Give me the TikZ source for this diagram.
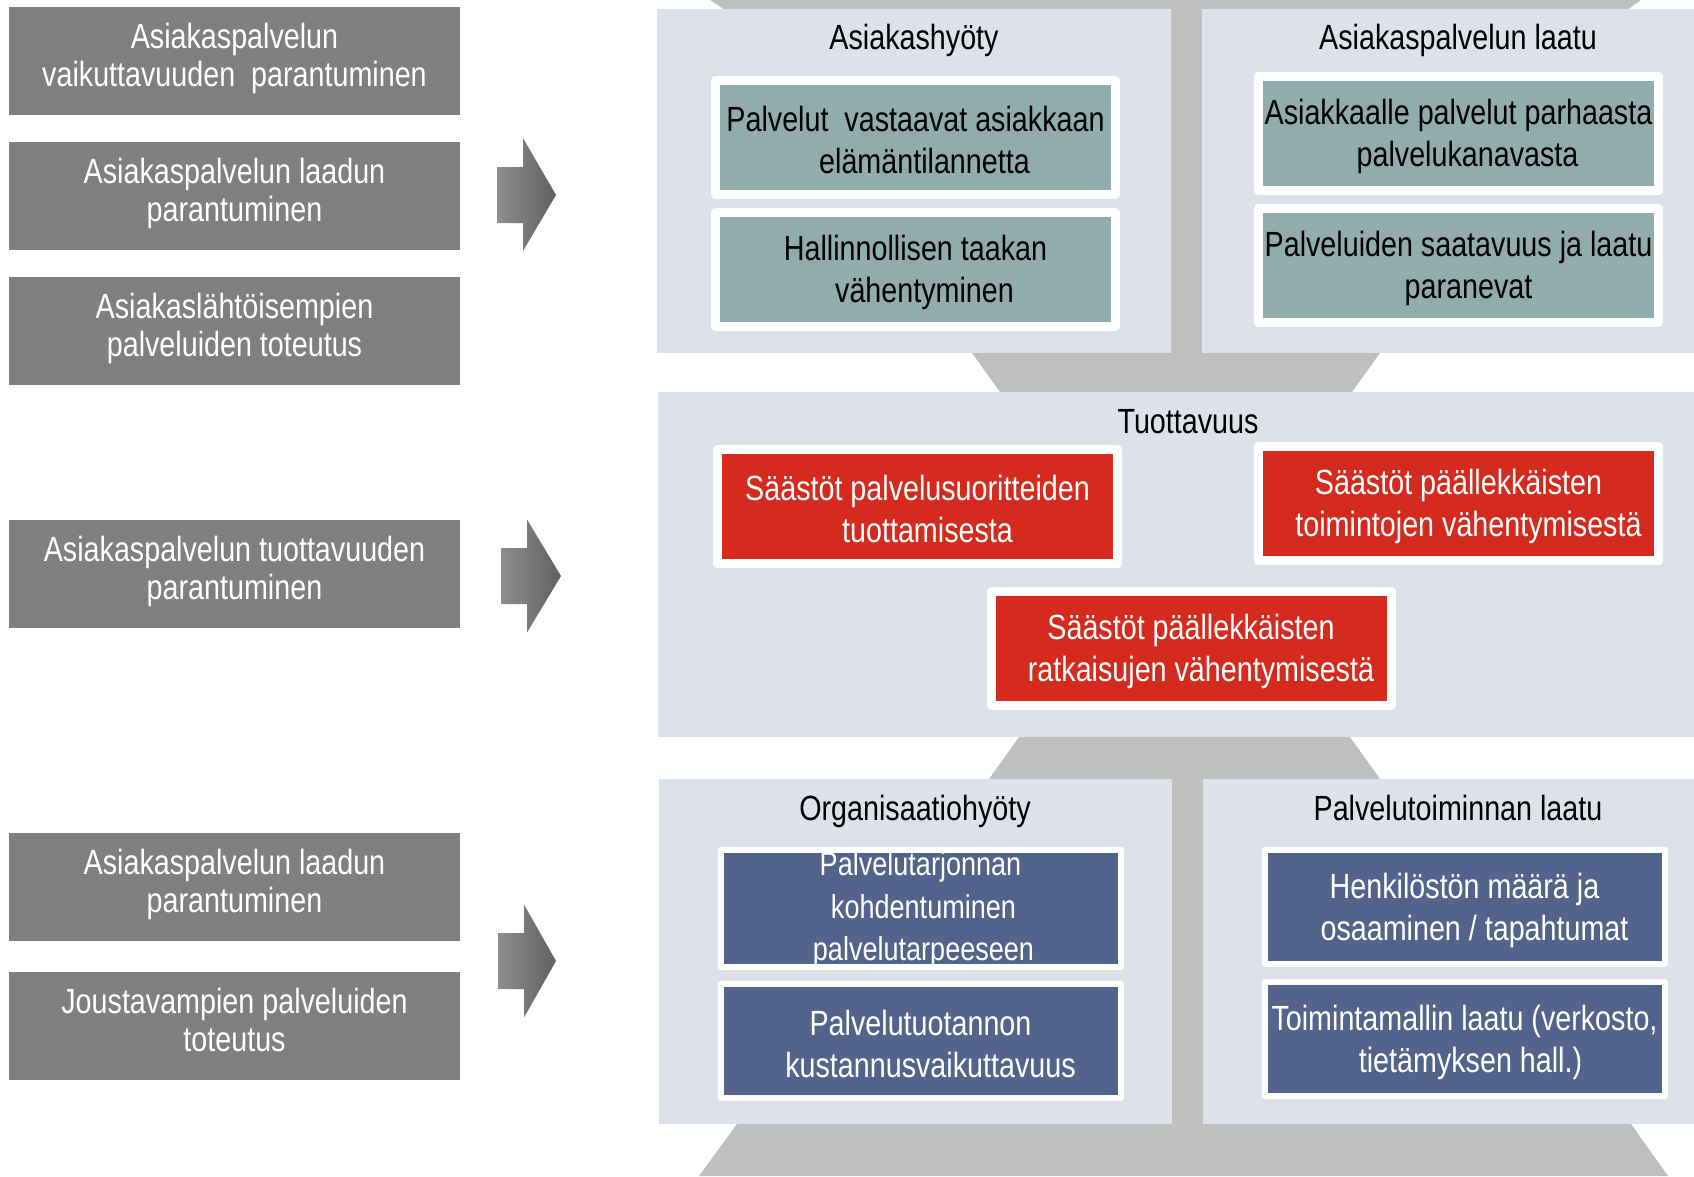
\documentclass[tikz,border=0pt]{standalone}
\usepackage{fontspec}
\setmainfont{Liberation Sans}[FakeStretch=0.82]

\definecolor{panel}{RGB}{221,225,234}
\definecolor{pillargray}{RGB}{191,191,191}
\definecolor{srcgray}{RGB}{128,128,128}
\definecolor{tealfill}{RGB}{145,172,172}
\definecolor{redfill}{RGB}{213,43,30}
\definecolor{bluefill}{RGB}{82,100,139}
\definecolor{arrowlight}{RGB}{142,142,142}
\definecolor{arrowdark}{RGB}{96,96,96}

% struts that fix the first baseline and the last depth of a text block
\newcommand\linetop[1]{\rule{0pt}{#1pt}}
\newcommand\linebot[1]{\rule[-#1pt]{0pt}{#1pt}}
% leading blank that pushes a centred line to the right
\newcommand\nudge[1]{\hspace*{#1pt}}

\begin{document}
\begin{tikzpicture}[x=1pt,y=-1pt,
  pillar/.style={fill=pillargray},
  panelbg/.style={fill=panel},
  srcbox/.style={fill=srcgray, text=white, minimum width=451pt, minimum height=108pt,
    inner sep=0pt, align=center, font=\fontsize{35}{38}\selectfont},
  framed/.style={draw=white, line width=9pt, line join=round, minimum width=400pt,
    minimum height=114pt, inner sep=0pt, align=center, font=\fontsize{35}{42}\selectfont},
  tealbox/.style={framed, fill=tealfill, text=black},
  redbox/.style={framed, fill=redfill, text=white},
  bluebox/.style={framed, fill=bluefill, text=white, line width=6pt},
  heading/.style={anchor=base, inner sep=0pt, font=\fontsize{35}{42}\selectfont},
  flow/.style={left color=arrowlight, right color=arrowdark},
]
\useasboundingbox (0,0) rectangle (1694,1176);

% grey frame behind the three panel rows
\fill[pillar] (710,0) -- (1641,0) -- (1627,10) -- (725,10) -- cycle;
\fill[pillar] (1170,0) rectangle (1203,360);
\fill[pillar] (972,353) -- (1380,353) -- (1352,392) -- (1000,392) -- cycle;
\fill[pillar] (1019,737) -- (1350,737) -- (1380,779) -- (989,779) -- cycle;
\fill[pillar] (1171,770) rectangle (1204,1130);
\fill[pillar] (737,1124) -- (1631,1124) -- (1668,1176) -- (699,1176) -- cycle;

% panels
\fill[panelbg] (657,9) rectangle (1171,353);
\fill[panelbg] (1202,9) rectangle (1694,353);
\fill[panelbg] (658,392) rectangle (1694,737);
\fill[panelbg] (659,779) rectangle (1172,1124);
\fill[panelbg] (1203,779) rectangle (1694,1124);

% panel headings
\node[heading] (h-asiakashyoty) at (914,49) {Asiakashyöty};
\node[heading] (h-aplaatu) at (1458,49) {Asiakaspalvelun laatu};
\node[heading] (h-tuottavuus) at (1188,433) {Tuottavuus};
\node[heading] (h-organisaatio) at (915,820) {Organisaatiohyöty};
\node[heading] (h-ptlaatu) at (1458,820) {Palvelutoiminnan laatu};

% customer benefit
\node[tealbox] (tl1) at (915.5,137) {\linetop{32}Palvelut\ \ vastaavat asiakkaan\\\nudge{18}elämäntilannetta\linebot{2}};
\node[tealbox] (tl2) at (915.5,269) {\linetop{32}Hallinnollisen taakan\\\nudge{18}vähentyminen\linebot{2}};
% customer service quality
\node[tealbox] (tr1) at (1458.5,133.5) {\linetop{32}Asiakkaalle palvelut parhaasta\\\nudge{18}palvelukanavasta\linebot{2}};
\node[tealbox] (tr2) at (1458.5,265.5) {\linetop{32}Palveluiden saatavuus ja laatu\\\nudge{20}paranevat\linebot{2}};

% productivity
\node[redbox] (r1) at (917.5,506.5) {\linetop{32}Säästöt palvelusuoritteiden\\\nudge{20}tuottamisesta\linebot{2}};
\node[redbox] (r2) at (1458.5,503.5) {\linetop{32}Säästöt päällekkäisten\\\nudge{20}toimintojen vähentymisestä\linebot{2}};
\node[redbox] (r3) at (1191,648) {\linetop{32}Säästöt päällekkäisten\\\nudge{20}ratkaisujen vähentymisestä\linebot{2}};

% organisational benefit
\node[bluebox, font=\fontsize{33}{42.5}\selectfont] (bl1) at (920.5,908.5) {\linetop{26}Palvelutarjonnan\\\nudge{6}kohdentuminen\\\nudge{6}palvelutarpeeseen\linebot{2}};
\node[bluebox] (bl2) at (920.5,1041) {\linetop{32}Palvelutuotannon\\\nudge{20}kustannusvaikuttavuus\linebot{2}};
% service operation quality
\node[bluebox] (br1) at (1464.5,907) {\linetop{32}Henkilöstön määrä ja\\\nudge{20}osaaminen / tapahtumat\linebot{2}};
\node[bluebox] (br2) at (1464.5,1039) {\linetop{32}Toimintamallin laatu (verkosto,\\\nudge{12}tietämyksen hall.)\linebot{2}};

% source goals on the left
\node[srcbox] (s1) at (234.5,61) {\linetop{22}Asiakaspalvelun\\vaikuttavuuden\ \ parantuminen\linebot{12}};
\node[srcbox] (s2) at (234.5,196) {\linetop{22}Asiakaspalvelun laadun\\parantuminen\linebot{12}};
\node[srcbox] (s3) at (234.5,331) {\linetop{22}Asiakaslähtöisempien\\palveluiden toteutus\linebot{12}};
\node[srcbox] (s4) at (234.5,573.5) {\linetop{22}Asiakaspalvelun tuottavuuden\\parantuminen\linebot{12}};
\node[srcbox] (s5) at (234.5,887) {\linetop{22}Asiakaspalvelun laadun\\parantuminen\linebot{12}};
\node[srcbox] (s6) at (234.5,1026) {\linetop{22}Joustavampien palveluiden\\toteutus\linebot{12}};

% block arrows
\shade[flow] (497,167) -- (523,167) -- (523,138) -- (556,195) -- (523,251) -- (523,223) -- (497,223) -- cycle;
\shade[flow] (501,548) -- (527,548) -- (527,519.5) -- (561,576) -- (527,632.5) -- (527,604) -- (501,604) -- cycle;
\shade[flow] (498,933) -- (524,933) -- (524,904.5) -- (556,961) -- (524,1017.5) -- (524,989) -- (498,989) -- cycle;
\end{tikzpicture}
\end{document}
